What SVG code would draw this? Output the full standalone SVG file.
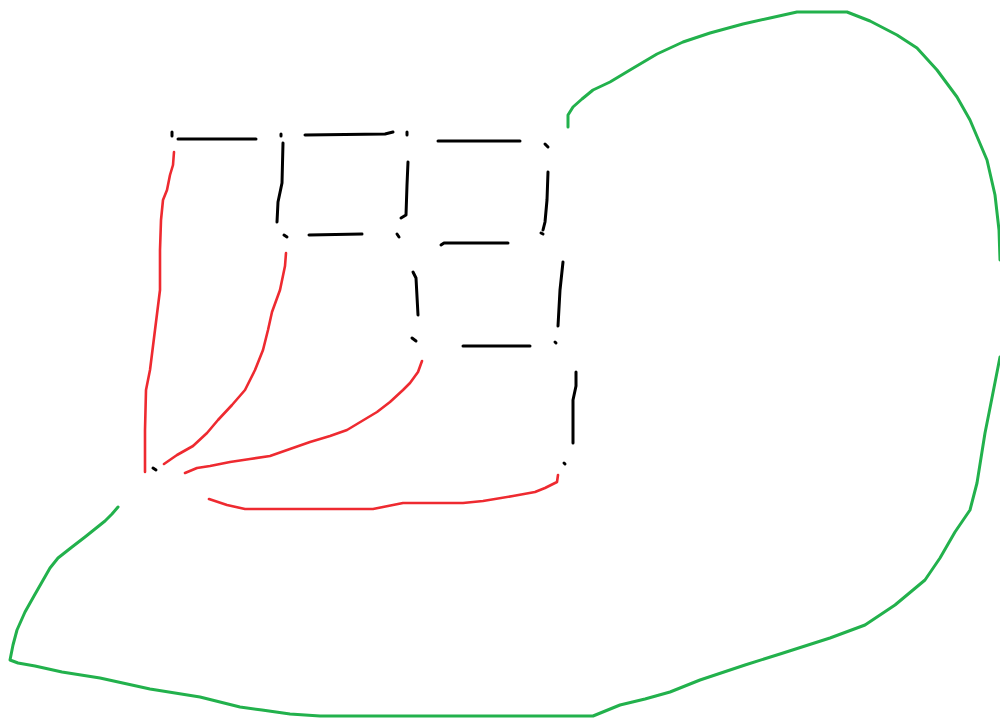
<svg xmlns="http://www.w3.org/2000/svg" width="1000" height="722" viewBox="0 0 1000 722">
<style>
.k{fill:none;stroke:#000;stroke-width:3;stroke-linecap:round;stroke-linejoin:round}
.r{fill:none;stroke:#ee2a30;stroke-width:2.6;stroke-linecap:round;stroke-linejoin:round}
.g{fill:none;stroke:#22b14c;stroke-width:3;stroke-linecap:round;stroke-linejoin:round}
</style>
<rect width="1000" height="722" fill="#fff"/>
<g id="green-outline">
<path class="g" d="M568,127 L568,115 L573,107 L582,99 L593,90 L610,82 L630,70 L657,54 L683,42 L710,33 L743,24 L770,18 L797,12 L847,12 L870,21 L897,35 L917,48 L937,70 L957,97 L970,120 L987,160 L995,195 L999,230 L1000,260"/>
<path class="g" d="M1000,357 L989,413 L985,433 L977,483 L970,510 L955,532 L940,558 L925,580 L913,590 L895,605 L865,625 L830,638 L780,654 L745,665 L700,680 L670,692 L645,699 L620,705 L593,716 L320,716 L290,714 L262,710 L240,707 L200,697 L150,689 L100,678 L62,672 L35,666 L18,663 L10,660 L13,645 L17,630 L25,612 L34,596 L42,582 L50,568 L58,558 L72,547 L85,537 L95,529 L105,521 L112,514 L118,507"/>
</g>
<g id="black-grid">
<path class="k" d="M172,132 L172,136"/>
<path class="k" d="M178,139 L256,139"/>
<path class="k" d="M281,134 L281,136"/>
<path class="k" d="M283,143 L282,183 L278,202 L277,222"/>
<path class="k" d="M284,235 L287,237"/>
<path class="k" d="M309,235 L362,234"/>
<path class="k" d="M305,135 L385,134 L393,132"/>
<path class="k" d="M407,132 L407,135"/>
<path class="k" d="M408,162 L407,185 L406,215 L401,218"/>
<path class="k" d="M397,234 L399,237"/>
<path class="k" d="M438,141 L520,141"/>
<path class="k" d="M545,144 L548,147"/>
<path class="k" d="M548,172 L547,200 L545,222 L543,230"/>
<path class="k" d="M541,233 L543,234"/>
<path class="k" d="M441,245 L444,243 L508,243"/>
<path class="k" d="M413,272 L416,278 L418,315"/>
<path class="k" d="M563,262 L560,290 L558,326"/>
<path class="k" d="M412,338 L416,341"/>
<path class="k" d="M463,346 L530,346"/>
<path class="k" d="M555,342 L556,343"/>
<path class="k" d="M576,372 L576,386 L573,400 L573,443"/>
<path class="k" d="M564,463 L565,464"/>
<path class="k" d="M153,468 L156,470"/>
</g>
<g id="red-lines">
<path class="r" d="M174,152 L173,165 L170,175 L167,190 L163,200 L161,220 L160,250 L160,290 L155,330 L150,370 L146,390 L145,430 L145,472"/>
<path class="r" d="M286,253 L285,266 L280,290 L272,312 L268,330 L263,350 L255,370 L245,390 L232,405 L218,420 L207,433 L193,446 L177,455 L164,464"/>
<path class="r" d="M422,361 L418,372 L410,383 L403,390 L390,402 L377,412 L362,421 L347,430 L330,436 L310,442 L290,449 L270,456 L250,459 L230,462 L210,466 L197,468 L185,473"/>
<path class="r" d="M558,475 L557,482 L545,488 L535,492 L513,496 L483,501 L463,503 L403,503 L383,507 L373,509 L245,509 L227,505 L209,499"/>
</g>
</svg>
